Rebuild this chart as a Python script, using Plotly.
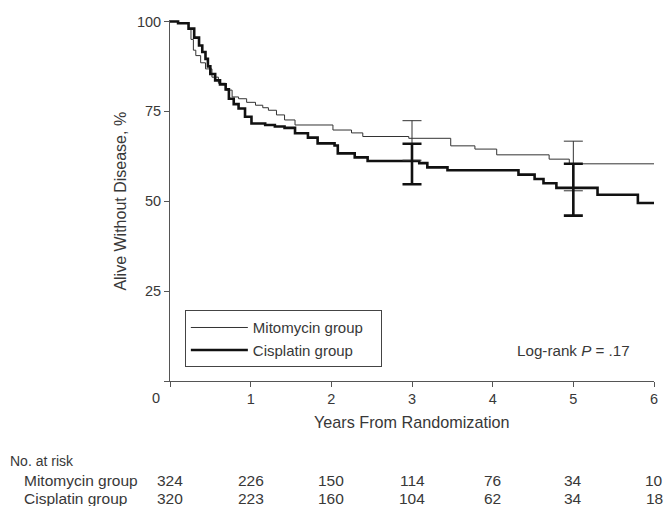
import plotly.graph_objects as go

# ---- data ----
mito_t = [0, 0.10, 0.23, 0.26, 0.29, 0.32, 0.38, 0.44, 0.52, 0.60, 0.69, 0.77, 0.85, 0.95,
          1.06, 1.15, 1.22, 1.32, 1.42, 1.55, 2.02, 2.25, 2.39, 2.96, 3.48, 3.78, 4.05,
          4.70, 4.95, 6.0]
mito_s = [100, 99.5, 97.9, 95.0, 92.0, 90.5, 88.5, 86.8, 84.5, 82.8, 80.9, 79.0, 78.5, 77.5,
          76.7, 76.0, 75.3, 74.0, 72.6, 71.2, 69.8, 69.0, 68.0, 67.5, 65.4, 64.5, 62.9,
          61.7, 60.4, 60.4]
cis_t = [0, 0.10, 0.23, 0.30, 0.36, 0.40, 0.44, 0.47, 0.50, 0.56, 0.62, 0.69, 0.73, 0.79,
         0.85, 0.93, 1.01, 1.18, 1.30, 1.42, 1.55, 1.71, 1.83, 2.04, 2.08, 2.29, 2.45,
         3.09, 3.19, 3.44, 4.32, 4.52, 4.63, 4.79, 5.30, 5.80, 6.0]
cis_s = [100, 99.5, 98.0, 95.5, 93.3, 91.5, 89.6, 87.5, 85.4, 83.6, 82.5, 81.1, 78.5, 77.0,
         75.8, 73.5, 71.6, 71.2, 70.8, 70.4, 68.9, 67.7, 66.1, 65.5, 63.3, 62.2, 61.2,
         60.6, 59.4, 58.6, 57.4, 56.2, 55.0, 53.7, 51.8, 49.5, 49.5]

ci_years = [3, 5]
mito_ci_mid = [67.5, 60.4]
mito_ci_lo = [61.4, 52.9]
mito_ci_hi = [72.4, 66.7]
cis_ci_mid = [61.2, 53.5]
cis_ci_lo = [54.7, 46.0]
cis_ci_hi = [66.0, 60.4]

risk_years = [0, 1, 2, 3, 4, 5, 6]
risk_mito = [324, 226, 150, 114, 76, 34, 10]
risk_cis = [320, 223, 160, 104, 62, 34, 18]

x_ticks = [0, 1, 2, 3, 4, 5, 6]
x_labels = ["", "1", "2", "3", "4", "5", "6"]
y_ticks = [0, 25, 50, 75, 100]
y_labels = ["", "25", "50", "75", "100"]

FONT = "Liberation Sans"
TXT = "#383838"
AX = "#555555"

fig = go.Figure()
fig.add_trace(go.Scatter(x=mito_t, y=mito_s, mode="lines", line_shape="hv",
                         line=dict(color="#333333", width=1),
                         name="Mitomycin group\u00a0\u00a0\u00a0"))
fig.add_trace(go.Scatter(x=cis_t, y=cis_s, mode="lines", line_shape="hv",
                         line=dict(color="#111111", width=2.6),
                         name="Cisplatin group"))

fig.add_trace(go.Scatter(
    x=ci_years, y=mito_ci_mid, mode="markers", marker=dict(size=1, opacity=0),
    showlegend=False, hoverinfo="skip",
    error_y=dict(type="data", symmetric=False,
                 array=[h - m for h, m in zip(mito_ci_hi, mito_ci_mid)],
                 arrayminus=[m - l for m, l in zip(mito_ci_mid, mito_ci_lo)],
                 color="#333333", thickness=1, width=9.5)))
fig.add_trace(go.Scatter(
    x=ci_years, y=cis_ci_mid, mode="markers", marker=dict(size=1, opacity=0),
    showlegend=False, hoverinfo="skip",
    error_y=dict(type="data", symmetric=False,
                 array=[h - m for h, m in zip(cis_ci_hi, cis_ci_mid)],
                 arrayminus=[m - l for m, l in zip(cis_ci_mid, cis_ci_lo)],
                 color="#111111", thickness=2.6, width=9.5)))

RISK_F = dict(family=FONT, size=15.5, color=TXT)
ann = []
# risk table
ann.append(dict(text="No. at risk", xref="paper", yref="paper", x=-0.334, y=-0.2216,
                xanchor="left", yanchor="middle", showarrow=False,
                font=dict(family=FONT, size=14, color=TXT)))
ann.append(dict(text="Mitomycin group", xref="paper", yref="paper", x=-0.3053, y=-0.2756,
                xanchor="left", yanchor="middle", showarrow=False, font=RISK_F))
ann.append(dict(text="Cisplatin group", xref="paper", yref="paper", x=-0.3053, y=-0.3241,
                xanchor="left", yanchor="middle", showarrow=False, font=RISK_F))
for yr, m, c in zip(risk_years, risk_mito, risk_cis):
    ann.append(dict(text=str(m), xref="x", yref="paper", x=yr, y=-0.2756,
                    xanchor="center", yanchor="middle", showarrow=False, font=RISK_F))
    ann.append(dict(text=str(c), xref="x", yref="paper", x=yr, y=-0.3241,
                    xanchor="center", yanchor="middle", showarrow=False, font=RISK_F))
# axis titles
ann.append(dict(text="Years From Randomization", xref="x", yref="paper", x=3, y=-0.1127,
                xanchor="center", yanchor="middle", showarrow=False,
                font=dict(family=FONT, size=16.2, color=TXT)))
ann.append(dict(text="Alive Without Disease, %", xref="paper", yref="y", x=-0.1025, y=50,
                xanchor="center", yanchor="middle", textangle=-90, showarrow=False,
                font=dict(family=FONT, size=16, color=TXT)))
ann.append(dict(text="0", xref="paper", yref="paper", x=-0.0287, y=-0.047,
                xanchor="center", yanchor="middle", showarrow=False,
                font=dict(family=FONT, size=14.5, color=TXT)))
ann.append(dict(text="Log-rank <i>P</i> = .17", xref="x", yref="y", x=5.0, y=8.6,
                xanchor="center", yanchor="middle", showarrow=False,
                font=dict(family=FONT, size=15.2, color=TXT)))

fig.update_layout(
    width=666, height=506,
    margin=dict(l=170, r=8, t=20, b=125),
    paper_bgcolor="white", plot_bgcolor="white",
    font=dict(family=FONT, size=14.5, color=TXT),
    annotations=ann,
    showlegend=True,
    legend=dict(x=0.0307, y=0.196, xanchor="left", yanchor="top",
                bordercolor="#444444", borderwidth=1, bgcolor="white",
                font=dict(family=FONT, size=15, color=TXT), itemwidth=57,
                tracegroupgap=0),
)
fig.update_xaxes(range=[0, 6], tickmode="array", tickvals=x_ticks, ticktext=x_labels,
                 showgrid=False, zeroline=False, showline=True, linecolor=AX,
                 linewidth=1, ticks="outside", ticklen=5, tickcolor=AX)
fig.update_yaxes(range=[0, 100.4], tickmode="array", tickvals=y_ticks, ticktext=y_labels,
                 showgrid=False, zeroline=False, showline=True, linecolor=AX,
                 linewidth=1, ticks="outside", ticklen=5, tickcolor=AX)

fig.write_html("out.html", config={"displayModeBar": False},
               post_script="document.body.style.margin='0';document.body.style.overflow='hidden';")
